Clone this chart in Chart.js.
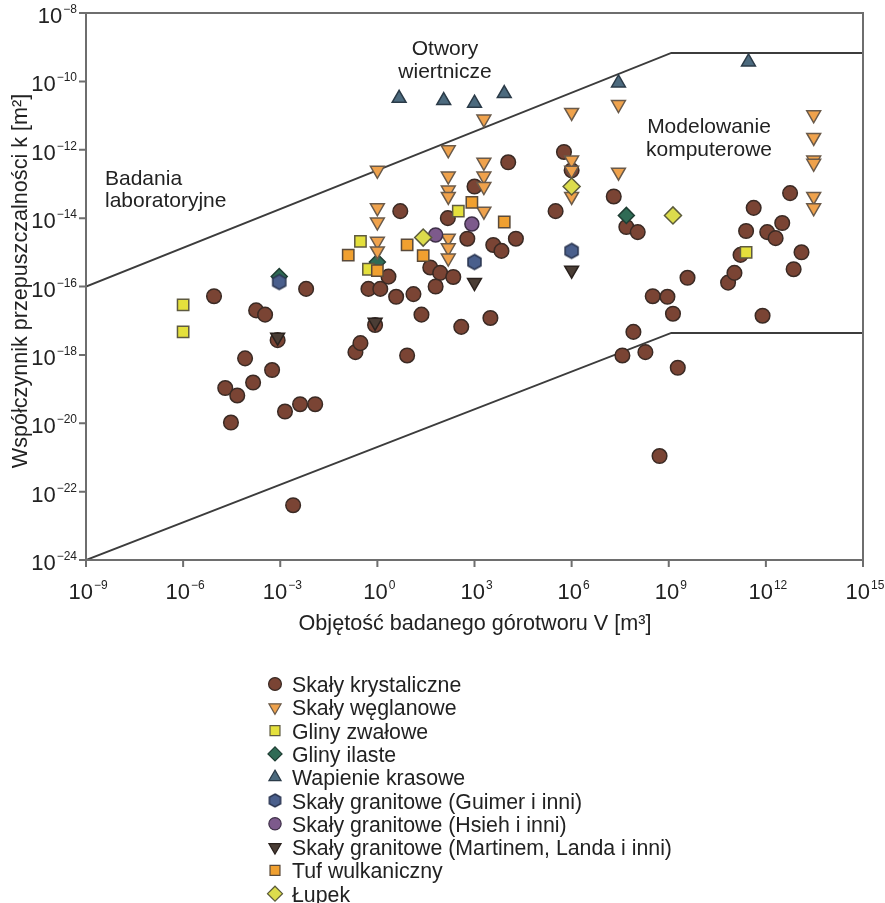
<!DOCTYPE html>
<html>
<head>
<meta charset="utf-8">
<script src="https://cdn.jsdelivr.net/npm/chart.js@4.4.0/dist/chart.umd.min.js"></script>
<style>
  html, body { margin: 0; padding: 0; background: #fff; }
  #wrap { width: 885px; height: 903px; position: relative; }
</style>
</head>
<body>
<div id="wrap"><canvas id="chart"></canvas></div>
<script>
// V [m3] (x) and k [m2] (y) per rock type
var krystaliczneV = [9e-6, 2e-5, 4.7e-5, 3e-5, 8.2e-5, 1.45e-4, 1.8e-4, 3.4e-4, 5.6e-4, 8.3e-4, 1.4e-3, 4.1e-3, 1.2e-2, 6.3e-3, 2.5e-3,
  0.21, 0.3, 0.53, 1.23, 0.85, 2.2, 3.8, 13, 8.3, 23, 390, 3100, 43, 87, 221, 63, 600, 3800, 6800, 1.9e4, 5.1, 150, 1000, 1.1e4,
  3.2e5, 5.8e5, 1e6, 2e7, 4.9e7, 1.1e8, 3.2e8, 9.1e8, 1.35e9, 7.9e11, 8.1e7, 3.7e7, 1.9e8, 1.9e9, 5.2e8, 3.8e9, 6.8e10, 1.07e11,
  1.65e11, 7.2e12, 1.26e13, 2.45e11, 4.2e11, 1.1e12, 2e12, 3.2e12, 5.6e12];
var krystaliczneK = [5.2e-17, 1.07e-19, 6.5e-20, 1.05e-20, 7.9e-19, 1.55e-19, 2e-17, 1.5e-17, 3.6e-19, 2.7e-18, 2.2e-20, 3.6e-20, 3.6e-20, 8.5e-17, 4e-23,
  1.2e-18, 2.2e-18, 8.5e-17, 8.5e-17, 7.5e-18, 1.95e-16, 5e-17, 6e-17, 9.6e-19, 1.5e-17, 6.6e-18, 1.2e-17, 3.6e-16, 2.5e-16, 1.9e-16, 1e-16, 2.5e-15, 1.64e-15, 1.1e-15, 2.5e-15, 1.6e-14, 1e-14, 8.4e-14, 4.3e-13,
  1.6e-14, 8.6e-13, 2.5e-13, 4.3e-14, 5.5e-15, 3.9e-15, 5.2e-17, 5e-17, 1.6e-17, 1.4e-17, 4.7e-18, 9.6e-19, 1.2e-18, 4.2e-19, 1.1e-21, 1.8e-16, 1.3e-16, 2.5e-16,
  8.4e-16, 3.2e-16, 1e-15, 4.2e-15, 2e-14, 3.9e-15, 2.6e-15, 7.2e-15, 5.4e-14];

var weglanoweV = [1, 1, 1, 1, 1, 155, 155, 155, 155, 155, 155, 155, 1950, 1950, 1950, 1950, 1950, 1e6, 1e6, 1e6, 1e6, 2.8e7, 2.8e7, 3e13, 3e13, 3e13, 3e13, 3e13, 3e13];
var weglanoweK = [2.5e-13, 2e-14, 7.7e-15, 2.1e-15, 1.1e-15, 1e-12, 1.7e-13, 6.6e-14, 4.3e-14, 2.6e-15, 1.35e-15, 6.8e-16, 7.9e-12, 4.3e-13, 1.7e-13, 8.4e-14, 1.6e-14, 1.23e-11, 5e-13, 2.5e-13, 4.3e-14, 2.1e-11, 2.2e-13, 1.05e-11, 2.3e-12, 5e-13, 4e-13, 4.3e-14, 2e-14];

var zwaloweV = [1e-6, 1e-6, 0.3, 316, 0.53, 2.45e11];
var zwaloweK = [2.9e-17, 4.7e-18, 2.1e-15, 1.6e-14, 3.2e-16, 1e-15];

var ilasteV = [9.3e-4, 1, 4.9e7];
var ilasteK = [1.95e-16, 5.2e-16, 1.2e-14];

var wapienieV = [4.7, 112, 1000, 8300, 2.8e7, 2.9e11];
var wapienieK = [3.2e-11, 2.75e-11, 2.3e-11, 4.4e-11, 9e-11, 3.7e-10];

var guimerV = [9.3e-4, 1000, 1e6];
var guimerK = [1.35e-16, 5.2e-16, 1.1e-15];

var hsiehV = [63, 830];
var hsiehK = [3.2e-15, 6.7e-15];

var martinemV = [8.3e-4, 0.85, 1000, 1e6];
var martinemK = [3.3e-18, 9e-18, 1.3e-16, 3e-16];

var tufV = [0.126, 8.3, 26, 830, 8300, 1];
var tufK = [8.3e-16, 1.64e-15, 8e-16, 2.9e-14, 7.7e-15, 2.9e-16];

var lupekV = [26, 1e6, 1.35e9];
var lupekK = [2.7e-15, 8.4e-14, 1.2e-14];

// boundaries of the measurement domains
var boundV = [1e-9, 1.2e9, 1e15];
var upperK = [1e-16, 6.8e-10, 6.8e-10];
var lowerK = [1e-24, 4.4e-18, 4.4e-18];

// tick labels (powers of ten)
var xTickExp = [-9, -6, -3, 0, 3, 6, 9, 12, 15];
var yTickExp = [-8, -10, -12, -14, -16, -18, -20, -22, -24];

var FONT = '"Liberation Sans", Arial, Helvetica, sans-serif';

function pts(xs, ys) {
  return xs.map(function (x, i) { return { x: x, y: ys[i] }; });
}

function makeHex(fill, stroke, r) {
  var c = document.createElement('canvas');
  c.width = c.height = Math.ceil(2 * r + 4);
  var g = c.getContext('2d');
  var cx = c.width / 2, cy = c.height / 2;
  g.beginPath();
  for (var i = 0; i < 6; i++) {
    var a = Math.PI / 3 * i - Math.PI / 2;
    g.lineTo(cx + r * Math.cos(a), cy + r * Math.sin(a));
  }
  g.closePath();
  g.fillStyle = fill; g.fill();
  g.lineWidth = 1.5; g.strokeStyle = stroke; g.stroke();
  return c;
}

function series(label, xs, ys, style, fill, stroke, radius, rotation, order) {
  return {
    type: 'scatter', label: label, data: pts(xs, ys),
    pointStyle: style, pointRadius: radius, pointHoverRadius: radius,
    pointRotation: rotation || 0,
    backgroundColor: fill, borderColor: stroke, borderWidth: 1.5,
    order: order
  };
}

function boundary(ys) {
  return {
    type: 'line', label: '', data: pts(boundV, ys),
    borderColor: '#3c3c3c', borderWidth: 2, pointRadius: 0, fill: false, tension: 0,
    order: 20
  };
}

var datasets = [
  series('Skały krystaliczne', krystaliczneV, krystaliczneK, 'circle', '#7a4434', '#3a2a24', 7.3, 0, 12),
  series('Skały węglanowe', weglanoweV, weglanoweK, 'triangle', '#efa24c', '#6a5a4a', 8, 180, 6),
  series('Gliny zwałowe', zwaloweV, zwaloweK, 'rect', '#e4e03c', '#5e5a40', 8, 0, 5),
  series('Gliny ilaste', ilasteV, ilasteK, 'rectRot', '#2f6b55', '#1f3d33', 8, 0, 7),
  series('Wapienie krasowe', wapienieV, wapienieK, 'triangle', '#4c6a7e', '#2b3b48', 8, 0, 4),
  series('Skały granitowe (Guimer i inni)', guimerV, guimerK, makeHex('#4a5f8c', '#2a3550', 7.5), '#4a5f8c', '#2a3550', 7, 0, 3),
  series('Skały granitowe (Hsieh i inni)', hsiehV, hsiehK, 'circle', '#7d5a8c', '#3e2f48', 7, 0, 3),
  series('Skały granitowe (Martinem, Landa i inni)', martinemV, martinemK, 'triangle', '#4a3d35', '#2a221e', 8, 180, 2),
  series('Tuf wulkaniczny', tufV, tufK, 'rect', '#f0a030', '#5a4a3a', 8, 0, 2),
  series('Łupek', lupekV, lupekK, 'rectRot', '#dcdc4c', '#5a5a3a', 8.5, 0, 1),
  boundary(upperK),
  boundary(lowerK)
];

function drawPow(ctx, exp, x, y, align) {
  var base = '10', sup = (exp < 0 ? '\u2212' : '') + Math.abs(exp);
  ctx.font = '22px ' + FONT;
  var wb = ctx.measureText(base).width;
  ctx.font = '12px ' + FONT;
  var ws = ctx.measureText(sup).width;
  var start = align === 'right' ? x - wb - ws - 1 : x - (wb + ws + 1) / 2;
  ctx.textAlign = 'left';
  ctx.textBaseline = 'alphabetic';
  ctx.font = '22px ' + FONT;
  ctx.fillText(base, start, y);
  ctx.font = '12px ' + FONT;
  ctx.fillText(sup, start + wb + 1, y - 10);
}

var decorPlugin = {
  id: 'decor',
  afterDraw: function (chart) {
    var ctx = chart.ctx, a = chart.chartArea;
    var xs = chart.scales.x, ys = chart.scales.y;
    ctx.save();
    // frame
    ctx.strokeStyle = '#6e6e6e';
    ctx.lineWidth = 2;
    ctx.strokeRect(a.left, a.top, a.right - a.left, a.bottom - a.top);
    // ticks and labels
    ctx.fillStyle = '#222';
    ctx.beginPath();
    xTickExp.forEach(function (e) {
      var px = xs.getPixelForValue(Math.pow(10, e));
      ctx.moveTo(px, a.bottom); ctx.lineTo(px, a.bottom + 7);
    });
    yTickExp.forEach(function (e) {
      var py = ys.getPixelForValue(Math.pow(10, e));
      ctx.moveTo(a.left, py); ctx.lineTo(a.left - 7, py);
    });
    ctx.stroke();
    xTickExp.forEach(function (e) {
      drawPow(ctx, e, xs.getPixelForValue(Math.pow(10, e)) + 2, a.bottom + 39, 'center');
    });
    yTickExp.forEach(function (e) {
      drawPow(ctx, e, a.left - 9, ys.getPixelForValue(Math.pow(10, e)) + 10, 'right');
    });
    // axis titles
    ctx.font = '21.6px ' + FONT;
    ctx.textBaseline = 'alphabetic';
    ctx.textAlign = 'center';
    ctx.fillText('Objętość badanego górotworu V [m³]', 475, 630);
    ctx.save();
    ctx.translate(27, 281);
    ctx.rotate(-Math.PI / 2);
    ctx.fillText('Współczynnik przepuszczalności k [m²]', 0, 0);
    ctx.restore();
    // region notes
    ctx.font = '21px ' + FONT;
    ctx.textAlign = 'left';
    ctx.fillText('Badania', 105, 185);
    ctx.fillText('laboratoryjne', 105, 207);
    ctx.textAlign = 'center';
    ctx.fillText('Otwory', 445, 55);
    ctx.fillText('wiertnicze', 445, 78);
    ctx.fillText('Modelowanie', 709, 133);
    ctx.fillText('komputerowe', 709, 156);
    // legend
    var helpers = Chart.helpers;
    chart.data.datasets.forEach(function (ds, i) {
      if (ds.type !== 'scatter') return;
      var by = 692 + i * 23.3;
      ctx.fillStyle = ds.backgroundColor;
      ctx.strokeStyle = ds.borderColor;
      ctx.lineWidth = 1.2;
      var st = ds.pointStyle;
      if (typeof st === 'object') st = makeHex(ds.backgroundColor, ds.borderColor, 6.5);
      helpers.drawPoint(ctx, {
        pointStyle: st, radius: ds.pointRadius * 0.88, rotation: ds.pointRotation, borderWidth: 1.2
      }, 275, by - 8);
      ctx.fillStyle = '#222';
      ctx.textAlign = 'left';
      ctx.font = '21.3px ' + FONT;
      ctx.fillText(ds.label, 292, by);
    });
    ctx.restore();
  }
};

new Chart(document.getElementById('chart'), {
  data: { datasets: datasets },
  options: {
    responsive: true,
    maintainAspectRatio: false,
    animation: false,
    layout: { padding: { left: 86, top: 13, right: 22, bottom: 343 } },
    plugins: { legend: { display: false }, tooltip: { enabled: false } },
    scales: {
      x: { type: 'logarithmic', min: 1e-9, max: 1e15, display: false },
      y: { type: 'logarithmic', min: 1e-24, max: 1e-8, display: false }
    }
  },
  plugins: [decorPlugin]
});
</script>
</body>
</html>
